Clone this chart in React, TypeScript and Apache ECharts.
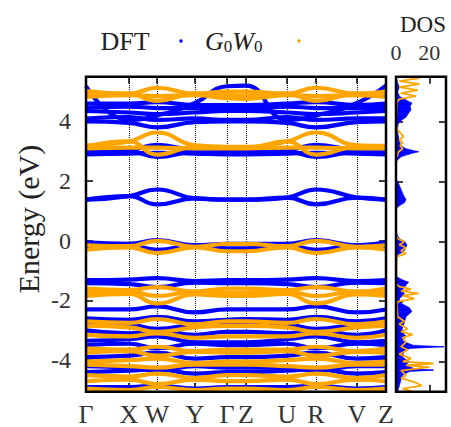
import React, { useEffect, useRef } from 'react';
import * as echarts from 'echarts';

// High-symmetry path (x positions along path) and labels
const kPos = [0, 43, 71, 109, 141, 160, 201, 230, 271, 300];
const kLabels = ['Γ', 'X', 'W', 'Y', 'Γ', 'Z', 'U', 'R', 'V', 'Z'];
const energyTicks = [-4, -2, 0, 2, 4];
const dosTickLabels = [0, 20];

// Band energies (eV) at Γ X W Y Γ Z U R V Z
const dftBands = [
  [5.18, 4.05, 4.2, 4.62, 5.18, 5.2, 4.05, 4.2, 4.62, 5.2],
  [4.6, 4.6, 4.65, 4.55, 4.55, 4.55, 4.6, 4.65, 4.55, 4.6],
  [4.45, 4.5, 4.45, 4.45, 4.42, 4.42, 4.5, 4.45, 4.45, 4.45],
  [4.35, 4.3, 4.25, 4.3, 4.35, 4.35, 4.3, 4.25, 4.3, 4.35],
  [4.1, 4.15, 4.05, 4.1, 4.05, 4.05, 4.15, 4.05, 4.1, 4.1],
  [4.0, 3.95, 3.8, 3.98, 4.0, 4.0, 3.95, 3.8, 3.98, 4.0],
  [3.05, 3.05, 3.22, 3.05, 3.05, 3.05, 3.05, 3.22, 3.05, 3.05],
  [2.95, 3.0, 2.81, 2.98, 2.95, 2.95, 3.0, 2.81, 2.98, 2.95],
  [2.9, 2.92, 2.95, 2.92, 2.9, 2.9, 2.92, 2.95, 2.92, 2.9],
  [1.38, 1.5, 1.72, 1.42, 1.38, 1.38, 1.45, 1.72, 1.45, 1.38],
  [1.38, 1.5, 1.22, 1.42, 1.38, 1.38, 1.45, 1.22, 1.45, 1.38],
  [-0.05, -0.1, 0.02, -0.15, -0.1, -0.1, -0.1, 0.02, -0.15, -0.05],
  [-0.25, -0.15, -0.3, -0.15, -0.25, -0.25, -0.15, -0.3, -0.15, -0.25],
  [-1.32, -1.3, -1.25, -1.35, -1.32, -1.32, -1.3, -1.25, -1.35, -1.32],
  [-1.42, -1.45, -1.55, -1.4, -1.42, -1.42, -1.45, -1.55, -1.4, -1.42],
  [-2.3, -2.3, -2.2, -2.4, -2.3, -2.3, -2.3, -2.2, -2.4, -2.3],
  [-2.6, -2.65, -2.55, -2.7, -2.65, -2.62, -2.65, -2.55, -2.7, -2.6],
  [-2.75, -2.8, -2.95, -2.8, -2.75, -2.75, -2.8, -2.95, -2.8, -2.75],
  [-3.0, -3.1, -3.0, -3.15, -3.05, -3.05, -3.1, -3.0, -3.15, -3.0],
  [-3.35, -3.3, -3.2, -3.4, -3.4, -3.4, -3.3, -3.2, -3.4, -3.35],
  [-3.5, -3.45, -3.6, -3.45, -3.5, -3.5, -3.45, -3.6, -3.45, -3.5],
  [-3.9, -3.85, -3.75, -3.95, -3.9, -3.9, -3.85, -3.75, -3.95, -3.9],
  [-4.2, -4.25, -4.35, -4.2, -4.25, -4.25, -4.25, -4.35, -4.2, -4.2],
  [-4.4, -4.35, -4.3, -4.45, -4.4, -4.4, -4.35, -4.3, -4.45, -4.4],
  [-4.9, -4.9, -4.85, -4.95, -4.9, -4.9, -4.9, -4.85, -4.95, -4.9],
];

const gwBands = [
  [5.02, 4.93, 5.13, 4.93, 5.0, 5.0, 4.93, 5.13, 4.93, 5.0],
  [4.9, 4.93, 4.69, 4.93, 4.88, 4.85, 4.93, 4.69, 4.93, 4.9],
  [4.82, 4.88, 4.85, 4.88, 4.78, 4.76, 4.88, 4.85, 4.88, 4.82],
  [3.2, 3.33, 3.63, 3.2, 3.15, 3.15, 3.33, 3.63, 3.2, 3.18],
  [3.15, 3.33, 2.89, 3.15, 3.12, 3.12, 3.33, 2.89, 3.15, 3.12],
  [3.1, 3.12, 3.12, 3.1, 3.1, 3.1, 3.12, 3.12, 3.1, 3.1],
  [-0.15, -0.18, 0.0, -0.2, -0.1, -0.1, -0.18, 0.0, -0.2, -0.15],
  [-0.3, -0.22, -0.41, -0.22, -0.35, -0.35, -0.22, -0.41, -0.22, -0.3],
  [-1.6, -1.65, -1.55, -1.7, -1.6, -1.6, -1.65, -1.55, -1.7, -1.6],
  [-1.75, -1.7, -1.85, -1.7, -1.75, -1.75, -1.7, -1.85, -1.7, -1.75],
  [-1.85, -1.78, -2.1, -1.8, -1.85, -1.85, -1.78, -2.1, -1.8, -1.85],
  [-2.7, -2.75, -2.62, -2.8, -2.7, -2.7, -2.75, -2.62, -2.8, -2.7],
  [-2.85, -2.9, -3.05, -2.9, -2.85, -2.85, -2.9, -3.05, -2.9, -2.85],
  [-3.15, -3.2, -3.1, -3.25, -3.2, -3.2, -3.2, -3.1, -3.25, -3.15],
  [-3.6, -3.65, -3.55, -3.7, -3.65, -3.65, -3.65, -3.55, -3.7, -3.6],
  [-3.75, -3.7, -3.85, -3.72, -3.75, -3.75, -3.7, -3.85, -3.72, -3.75],
  [-4.05, -4.0, -3.95, -4.1, -4.05, -4.05, -4.0, -3.95, -4.1, -4.05],
  [-4.15, -4.2, -4.25, -4.15, -4.15, -4.15, -4.2, -4.25, -4.15, -4.15],
  [-4.5, -4.55, -4.45, -4.6, -4.5, -4.5, -4.55, -4.45, -4.6, -4.5],
  [-4.7, -4.65, -4.8, -4.65, -4.7, -4.7, -4.65, -4.8, -4.65, -4.7],
  [-4.95, -5.0, -4.9, -5.0, -4.95, -4.95, -5.0, -4.9, -5.0, -4.95],
];

// Density of states
const dosEnergyDft = [5.5, 5.3, 5.15, 5.0, 4.85, 4.72, 4.62, 4.5, 4.4, 4.28, 4.15, 4.06, 3.95, 3.8, 3.65, 3.5, 3.35, 3.2, 3.1, 3.0, 2.92, 2.83, 2.7, 2.5, 2.1, 1.95, 1.75, 1.55, 1.4, 1.3, 1.2, 1.1, 0.3, 0.1, 0.0, -0.12, -0.25, -0.35, -0.45, -0.6, -1.15, -1.25, -1.35, -1.45, -1.6, -1.75, -1.9, -2.05, -2.2, -2.33, -2.5, -2.7, -2.85, -3.0, -3.15, -3.3, -3.45, -3.5, -3.56, -3.7, -3.85, -4.0, -4.12, -4.25, -4.28, -4.33, -4.45, -4.6, -4.8, -5.0];
const dosDft = [0, 1, 2, 1, 2, 6, 9.5, 8.5, 9, 7.5, 6, 3.5, 1.5, 1, 1, 1.5, 2, 3, 6, 13.5, 8, 3, 0.5, 0, 0, 1.5, 3, 4.5, 6, 5, 2, 0, 0, 2, 5.5, 6.5, 5.5, 4, 0.5, 0, 0, 3, 7.5, 6, 4, 5, 2, 3, 8, 9.5, 6, 5, 4, 3.5, 6, 4, 10, 28.7, 8, 4.5, 4, 8, 6, 12, 22.5, 8, 4, 3, 2, 1];
const dosEnergyGw = [5.5, 5.45, 5.35, 5.25, 5.15, 5.05, 4.95, 4.85, 4.75, 4.65, 4.0, 3.75, 3.6, 3.5, 3.4, 3.3, 3.2, 3.1, 3.0, 2.9, 2.8, 0.2, 0.1, 0.0, -0.1, -0.2, -0.3, -0.4, -0.5, -1.4, -1.5, -1.58, -1.65, -1.72, -1.8, -1.9, -2.0, -2.1, -2.5, -2.65, -2.75, -2.9, -3.0, -3.1, -3.2, -3.35, -3.5, -3.6, -3.75, -3.9, -4.0, -4.06, -4.12, -4.18, -4.3, -4.45, -4.55, -4.7, -4.8, -4.9, -5.0];
const dosGw = [4, 14, 2, 14, 2, 13, 3, 12, 2, 0.5, 0, 0.5, 3, 4.5, 2, 4, 2.5, 4, 1.5, 1, 0, 0, 1, 5, 2, 6, 3, 6, 0.5, 0, 2, 9, 3, 13.5, 4, 11, 1, 0.5, 1, 5, 2, 7, 3, 10, 4, 6, 3, 7, 2, 9, 4, 22.5, 6, 20, 3, 6, 3, 12, 15.5, 4, 10];

const FONT = "'Liberation Serif', 'Times New Roman', serif";
const BLUE = '#0000ff';
const ORANGE = '#ffa500';
const TICK_LINE = { color: '#000', width: 1.5 };
const MAIN = { left: 86, top: 76.7, width: 300, height: 315 };
const DOSG = { left: 396, top: 76.7, width: 50, height: 315 };

export default function App() {
  const ref = useRef<HTMLDivElement>(null);

  useEffect(() => {
    const chart = echarts.init(ref.current!, null, { renderer: 'svg' });

    const bandSeries = (bands: number[][], color: string, name: string, z: number) =>
      bands.map((b) => ({
        type: 'line',
        name,
        xAxisIndex: 0,
        yAxisIndex: 0,
        data: b.map((e, i) => [kPos[i], e]),
        smooth: true,
        symbol: 'none',
        showSymbol: false,
        silent: true,
        clip: true,
        z,
        lineStyle: { color, width: 4.2 },
      }));

    const noLabel = { show: false };
    const hiddenLine = { show: false, onZero: false };
    const noSplit = { show: false };
    const tick = (values: number[]) => ({ show: true, inside: true, length: 7, customValues: values, lineStyle: TICK_LINE });

    const option: any = {
      animation: false,
      backgroundColor: '#fff',
      grid: [
        { ...MAIN, show: false },
        { ...DOSG, show: false },
      ],
      xAxis: [
        {
          gridIndex: 0, type: 'value', min: 0, max: 300, position: 'bottom',
          axisLine: hiddenLine, splitLine: noSplit, axisTick: tick(kPos),
          axisLabel: {
            customValues: kPos,
            formatter: (v: number) => kLabels[kPos.indexOf(v)] ?? '',
            fontSize: 26, fontFamily: FONT, color: '#333', margin: 11,
          },
        },
        {
          gridIndex: 0, type: 'value', min: 0, max: 300, position: 'top',
          axisLine: hiddenLine, splitLine: noSplit, axisLabel: noLabel, axisTick: tick(kPos),
        },
        {
          gridIndex: 1, type: 'value', min: 0, max: 30, position: 'bottom',
          axisLine: hiddenLine, splitLine: noSplit, axisLabel: noLabel, axisTick: tick([20]),
        },
        {
          gridIndex: 1, type: 'value', min: 0, max: 30, position: 'top',
          axisLine: hiddenLine, splitLine: noSplit, axisTick: tick([20]),
          axisLabel: { customValues: dosTickLabels, fontSize: 22, fontFamily: FONT, color: '#333', margin: 13 },
        },
      ],
      yAxis: [
        {
          gridIndex: 0, type: 'value', min: -5, max: 5.5, position: 'left',
          axisLine: hiddenLine, splitLine: noSplit, axisTick: tick(energyTicks),
          axisLabel: { customValues: energyTicks, fontSize: 24, fontFamily: FONT, color: '#333', margin: 15 },
        },
        {
          gridIndex: 0, type: 'value', min: -5, max: 5.5, position: 'right',
          axisLine: hiddenLine, splitLine: noSplit, axisLabel: noLabel, axisTick: tick(energyTicks),
        },
        {
          gridIndex: 1, type: 'value', min: -5, max: 5.5, position: 'left',
          axisLine: hiddenLine, splitLine: noSplit, axisLabel: noLabel, axisTick: tick(energyTicks),
        },
        {
          gridIndex: 1, type: 'value', min: -5, max: 5.5, position: 'right',
          axisLine: hiddenLine, splitLine: noSplit, axisLabel: noLabel, axisTick: tick(energyTicks),
        },
      ],
      graphic: [
        {
          type: 'rect', z: 100, silent: true,
          shape: { x: MAIN.left, y: MAIN.top, width: MAIN.width, height: MAIN.height },
          style: { fill: 'none', stroke: '#000', lineWidth: 2.5 },
        },
        {
          type: 'rect', z: 100, silent: true,
          shape: { x: DOSG.left, y: DOSG.top, width: DOSG.width, height: DOSG.height },
          style: { fill: 'none', stroke: '#000', lineWidth: 2.5 },
        },
        {
          type: 'text', x: 125, y: 41,
          style: { text: 'DFT', fontSize: 26, fontFamily: FONT, fill: '#222', textAlign: 'center', textVerticalAlign: 'middle' },
        },
        { type: 'circle', shape: { cx: 181, cy: 41, r: 1.7 }, style: { fill: BLUE } },
        {
          type: 'text', x: 205, y: 41,
          style: {
            text: '{i|G}{s|0}{i|W}{s|0}',
            textAlign: 'left', textVerticalAlign: 'middle', fill: '#222',
            rich: {
              i: { fontStyle: 'italic', fontSize: 26, fontFamily: FONT, lineHeight: 30, fill: '#222' },
              s: { fontSize: 17, fontFamily: FONT, lineHeight: 30, verticalAlign: 'bottom', fill: '#222', padding: [0, 0, 1, 0] },
            },
          },
        },
        { type: 'circle', shape: { cx: 299, cy: 41, r: 1.7 }, style: { fill: ORANGE } },
        {
          type: 'text', x: 423, y: 24,
          style: { text: 'DOS', fontSize: 23, fontFamily: FONT, fill: '#222', textAlign: 'center', textVerticalAlign: 'middle' },
        },
        {
          type: 'text', x: 28, y: 219, rotation: Math.PI / 2,
          style: { text: 'Energy (eV)', fontSize: 30, fontFamily: FONT, fill: '#222', textAlign: 'center', textVerticalAlign: 'middle' },
        },
      ],
      series: [
        {
          type: 'line', xAxisIndex: 0, yAxisIndex: 0, data: [], silent: true, z: 1,
          markLine: {
            silent: true, z: 1, symbol: ['none', 'none'], label: { show: false },
            lineStyle: { type: 'dotted', color: '#000', width: 1 },
            data: kPos.slice(1, -1).map((x) => ({ xAxis: x })),
          },
        },
        ...bandSeries(dftBands, BLUE, 'DFT', 2),
        ...bandSeries(gwBands, ORANGE, 'G0W0', 3),
        {
          type: 'custom', name: 'DFT DOS', xAxisIndex: 2, yAxisIndex: 2, clip: true, silent: true, z: 2,
          data: dosDft.map((d, i) => [d, dosEnergyDft[i]]),
          encode: { x: 0, y: 1 },
          renderItem: (params: any, api: any) => {
            const i = params.dataIndex;
            if (i >= dosDft.length - 1) return null;
            const p0 = api.coord([0, dosEnergyDft[i]]);
            const p1 = api.coord([dosDft[i], dosEnergyDft[i]]);
            const p2 = api.coord([dosDft[i + 1], dosEnergyDft[i + 1]]);
            const p3 = api.coord([0, dosEnergyDft[i + 1]]);
            return {
              type: 'polygon',
              shape: { points: [p0, p1, p2, p3] },
              style: { fill: BLUE, stroke: BLUE, lineWidth: 0.6 },
            };
          },
        },
        {
          type: 'line', name: 'G0W0 DOS', xAxisIndex: 2, yAxisIndex: 2, silent: true, z: 3,
          data: dosGw.map((d, i) => [d, dosEnergyGw[i]]),
          symbol: 'none', showSymbol: false, clip: true,
          lineStyle: { color: ORANGE, width: 1.8 },
        },
      ],
    };

    chart.setOption(option);
    return () => chart.dispose();
  }, []);

  return <div ref={ref} style={{ position: 'fixed', left: 0, top: 0, width: 451, height: 427 }} />;
}
